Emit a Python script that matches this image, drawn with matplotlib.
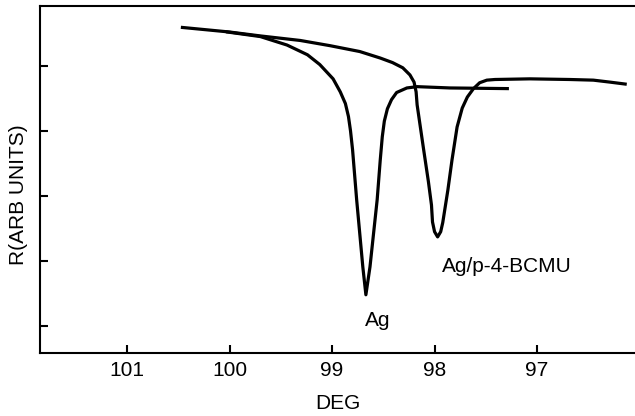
import matplotlib.pyplot as plt

plt.rcParams['font.family'] = ['Liberation Sans', 'DejaVu Sans']

# Ag film resonance (angle in deg, reflectivity in arb. units)
ag_deg = [100.02, 99.70, 99.44, 99.24, 99.12, 98.99, 98.92, 98.87, 98.84,
          98.82, 98.80, 98.76, 98.70, 98.67, 98.63, 98.56, 98.53, 98.51,
          98.49, 98.46, 98.42, 98.37, 98.27, 98.17, 97.85, 97.29]
ag_r = [4.52, 4.45, 4.32, 4.17, 4.02, 3.80, 3.60, 3.42, 3.22,
        3.00, 2.71, 1.94, 0.91, 0.48, 0.91, 1.94, 2.55, 2.91,
        3.15, 3.34, 3.48, 3.59, 3.66, 3.68, 3.66, 3.65]

# Ag/p-4-BCMU resonance
bcmu_deg = [100.46, 100.00, 99.70, 99.31, 99.02, 98.73, 98.53, 98.41, 98.31,
            98.24, 98.20, 98.18, 98.17, 98.11, 98.06, 98.03, 98.02, 98.00,
            97.97, 97.94, 97.92, 97.87, 97.83, 97.78, 97.73, 97.68,
            97.62, 97.56, 97.49, 97.41, 97.07, 96.68, 96.45, 96.29, 96.14]
bcmu_r = [4.59, 4.52, 4.46, 4.39, 4.31, 4.22, 4.12, 4.05, 3.97,
          3.86, 3.75, 3.60, 3.40, 2.75, 2.22, 1.86, 1.60, 1.45,
          1.37, 1.45, 1.59, 2.09, 2.55, 3.06, 3.35, 3.52,
          3.65, 3.74, 3.78, 3.79, 3.80, 3.79, 3.78, 3.75, 3.72]

x_ticks = [101, 100, 99, 98, 97]
y_ticks = [0, 1, 2, 3, 4]

fig = plt.figure(figsize=(6.35, 4.16), dpi=100)
ax = fig.add_axes([40 / 635, 63 / 416, 595 / 635, 347 / 416])

ax.plot(ag_deg, ag_r, color='black', linewidth=2.3, solid_joinstyle='round')
ax.plot(bcmu_deg, bcmu_r, color='black', linewidth=2.3, solid_joinstyle='round')

ax.text(98.556, 0.09, 'Ag', fontsize=15, ha='center', va='center')
ax.text(97.927, 0.91, 'Ag/p-4-BCMU', fontsize=15, ha='left', va='center')

ax.set_xlim(101.85, 96.044)
ax.set_ylim(-0.415, 4.92)
ax.set_xticks(x_ticks)
ax.set_xticklabels([str(t) for t in x_ticks])
ax.set_yticks(y_ticks)
ax.set_yticklabels([])
ax.tick_params(direction='in', length=6, width=1.5, labelsize=15, pad=6)

for side in ['left', 'bottom', 'top']:
    ax.spines[side].set_linewidth(1.5)
ax.spines['right'].set_visible(False)

ax.set_xlabel('DEG', fontsize=15, labelpad=10)
ax.set_ylabel('R(ARB UNITS)', fontsize=15)
ax.yaxis.set_label_coords(-0.02, 0.455)

fig.savefig('out.png', dpi=100)
